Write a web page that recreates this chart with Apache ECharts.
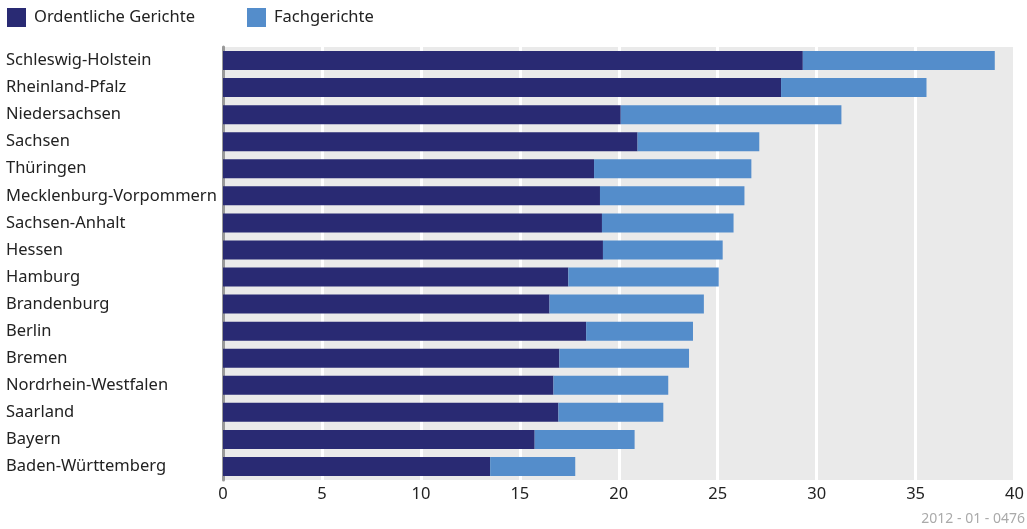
<!DOCTYPE html>
<html>
<head>
<meta charset="utf-8">
<script src="https://cdn.jsdelivr.net/npm/echarts@6/dist/echarts.min.js"></script>
<style>html,body{margin:0;padding:0;background:#fff;}#c{width:1027px;height:529px;}</style>
</head>
<body>
<div id="c"></div>
<script>
const categories = ["Schleswig-Holstein","Rheinland-Pfalz","Niedersachsen","Sachsen","Thüringen","Mecklenburg-Vorpommern","Sachsen-Anhalt","Hessen","Hamburg","Brandenburg","Berlin","Bremen","Nordrhein-Westfalen","Saarland","Bayern","Baden-Württemberg"];
const ordentliche = [29.3,28.2,20.1,20.95,18.75,19.05,19.15,19.2,17.45,16.5,18.35,17.0,16.7,16.95,15.75,13.5];
const fach = [9.7,7.35,11.15,6.15,7.95,7.3,6.65,6.05,7.6,7.8,5.4,6.55,5.8,5.3,5.05,4.3];
const xTicks = [0,5,10,15,20,25,30,35,40];
const seriesNames = ["Ordentliche Gerichte","Fachgerichte"];
const sourceNote = "2012 - 01 - 0476";

const FONT = "Noto Sans";
const chart = echarts.init(document.getElementById('c'));
chart.setOption({
  animation: false,
  textStyle: {fontFamily: FONT},
  legend: {
    left: 2, top: 3, itemWidth: 19, itemHeight: 19, itemGap: 52,
    icon: 'rect',
    textStyle: {fontSize: 16.5, color: '#222', fontFamily: FONT, padding: [0,0,0,3]},
    data: seriesNames
  },
  grid: {left: 223, right: 11, top: 47, bottom: 49, show: true, backgroundColor: '#EAEAEA', borderWidth: 0, containLabel: false},
  xAxis: {
    type: 'value', min: xTicks[0], max: xTicks[xTicks.length-1], interval: 5,
    axisLine: {show: false}, axisTick: {show: false},
    splitLine: {show: true, lineStyle: {color: '#ffffff', width: 3}},
    axisLabel: {fontSize: 16.5, color: '#222', margin: 6, fontFamily: FONT}
  },
  yAxis: {
    type: 'category', data: categories, inverse: true,
    axisLine: {show: true, lineStyle: {color: '#999', width: 3}},
    axisTick: {show: false},
    axisLabel: {fontSize: 16.5, color: '#222', align: 'left', margin: 217, fontFamily: FONT}
  },
  series: [
    {name: seriesNames[0], type: 'bar', stack: 't', data: ordentliche, barCategoryGap: '30%', itemStyle: {color: '#292A73'}},
    {name: seriesNames[1], type: 'bar', stack: 't', data: fach, barCategoryGap: '30%', itemStyle: {color: '#548DCB'}}
  ],
  graphic: [{type: 'text', right: 2, top: 512, style: {text: sourceNote, fill: '#aaa', fontSize: 14, fontFamily: FONT}}]
});
</script>
</body>
</html>
